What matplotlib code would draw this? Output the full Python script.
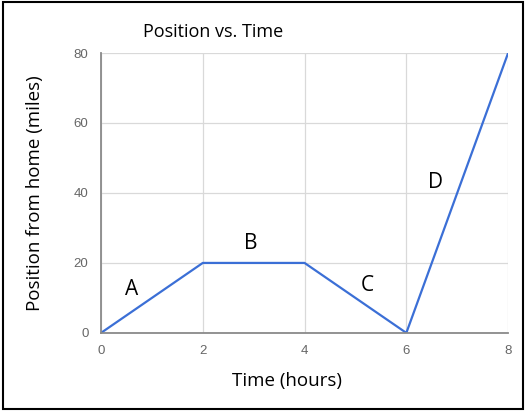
import matplotlib.pyplot as plt
from matplotlib.patches import Rectangle

# data
time_hours = [0, 2, 4, 6, 8]
position_miles = [0, 20, 20, 0, 80]
segment_labels = ['A', 'B', 'C', 'D']
label_x = [0.6, 2.95, 5.23, 6.58]
label_y = [12.5, 25.5, 13.5, 43]

fig = plt.figure(figsize=(5.26, 4.11), dpi=100)
ax = fig.add_axes([0.192, 0.190, 0.774, 0.681])

ax.plot(time_hours, position_miles, color='#3b6fd6', linewidth=1.6)
for lab, lx, ly in zip(segment_labels, label_x, label_y):
    ax.text(lx, ly, lab, fontsize=15, family='Open Sans', ha='center', va='center')

ax.set_xlim(0, 8)
ax.set_ylim(0, 80)
ax.set_xticks([0, 2, 4, 6, 8])
ax.set_yticks([0, 20, 40, 60, 80])
ax.grid(True, color='#d9d9d9', linewidth=0.9)
ax.set_axisbelow(True)
ax.tick_params(length=0, labelsize=9.5, labelcolor='#666666', pad=9)
for t in ax.get_xticklabels() + ax.get_yticklabels():
    t.set_family('Liberation Sans')
for s in ['top', 'right']:
    ax.spines[s].set_visible(False)
for s in ['left', 'bottom']:
    ax.spines[s].set_color('#8a8a8a')
    ax.spines[s].set_linewidth(1.3)

fig.text(0.405, 0.922, 'Position vs. Time', fontsize=13, family='Open Sans',
         ha='center', va='center')
fig.text(0.067, 0.53, 'Position from home (miles)', fontsize=13.5, family='Open Sans',
         rotation=90, ha='center', va='center')
fig.text(0.546, 0.073, 'Time (hours)', fontsize=13.5, family='Open Sans',
         ha='center', va='center')

fig.patches.append(Rectangle((0.006, 0.006), 0.988, 0.988, transform=fig.transFigure,
                             fill=False, edgecolor='black', linewidth=1.5))

fig.savefig('out.png', dpi=100)
